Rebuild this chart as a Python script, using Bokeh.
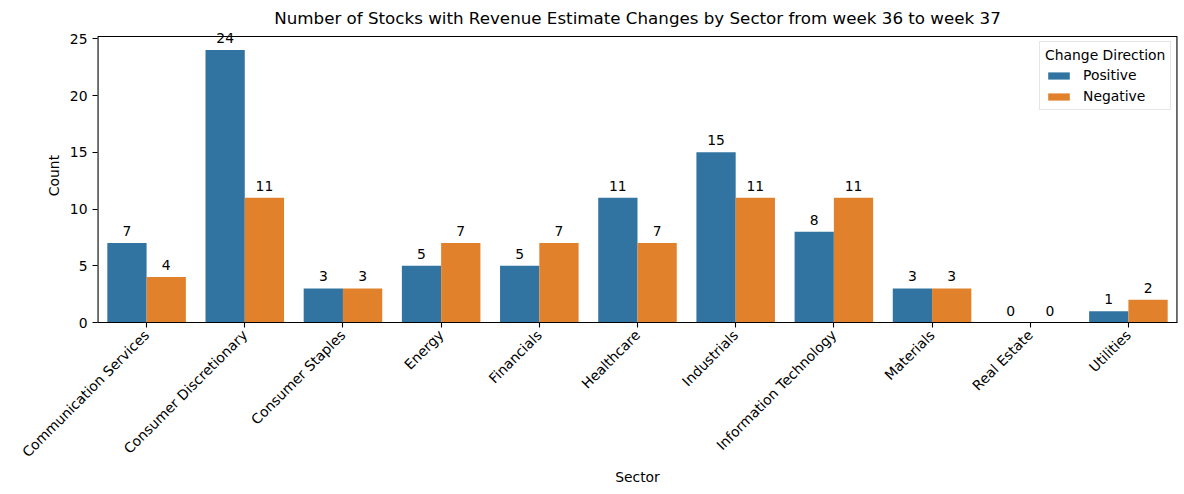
import math
from bokeh.plotting import figure
from bokeh.models import ColumnDataSource, FactorRange, Range1d, FixedTicker, Span
from bokeh.transform import dodge
from bokeh.core.properties import value
from bokeh.embed import file_html
from bokeh.resources import INLINE

sectors = ["Communication Services", "Consumer Discretionary", "Consumer Staples",
           "Energy", "Financials", "Healthcare", "Industrials",
           "Information Technology", "Materials", "Real Estate", "Utilities"]
positive = [7, 24, 3, 5, 5, 11, 15, 8, 3, 0, 1]
negative = [4, 11, 3, 7, 7, 7, 11, 11, 3, 0, 2]
series_names = ["Positive", "Negative"]
colors = ["#3274a1", "#e1812c"]
y_ticks = [0, 5, 10, 15, 20, 25]

FONT = "DejaVu Sans"
FS = "13.9px"
BAR_W = 0.4

W, H = 1184, 494
B_LEFT, B_RIGHT, B_TOP, B_BOTTOM = 97, 7, 28, 172
HEADROOM = 8            # px of frame above the drawn axes box, so labels can overflow it
Y_TOP = max(positive + negative) * 1.05
frame_h = H - B_TOP - B_BOTTOM
y_end = Y_TOP * frame_h / (frame_h - HEADROOM)

src = ColumnDataSource(dict(
    sector=sectors, pos=positive, neg=negative,
    pos_lbl=[str(v) for v in positive], neg_lbl=[str(v) for v in negative]))

p = figure(width=W, height=H, output_backend="svg", toolbar_location=None,
           x_range=FactorRange(factors=sectors, range_padding=0),
           y_range=Range1d(0, y_end),
           title="Number of Stocks with Revenue Estimate Changes by Sector from week 36 to week 37",
           min_border_left=B_LEFT, min_border_right=B_RIGHT,
           min_border_top=B_TOP, min_border_bottom=B_BOTTOM)

p.vbar(x=dodge("sector", -BAR_W / 2, range=p.x_range), top="pos", width=BAR_W, source=src,
       fill_color=colors[0], line_color=None, legend_label=series_names[0])
p.vbar(x=dodge("sector", BAR_W / 2, range=p.x_range), top="neg", width=BAR_W, source=src,
       fill_color=colors[1], line_color=None, legend_label=series_names[1])

for off, ycol, tcol in ((-BAR_W / 2, "pos", "pos_lbl"), (BAR_W / 2, "neg", "neg_lbl")):
    p.text(x=dodge("sector", off, range=p.x_range), y=ycol, text=tcol, source=src,
           text_align="center", text_baseline="bottom", y_offset=-7,
           text_font=value(FONT), text_font_size=FS, text_color="black")

# axes box (matplotlib spines) ending at Y_TOP
n = len(sectors)
p.segment(x0=[0, n], y0=[0, 0], x1=[0, n], y1=[Y_TOP, Y_TOP],
          line_color="black", line_width=2.2)
p.add_layout(Span(location=Y_TOP, dimension="width", line_color="black", line_width=1.1))

p.title.align = "center"
p.title.text_font = FONT
p.title.text_font_size = "16.7px"
p.title.text_font_style = "normal"
p.title.text_color = "black"
p.title.standoff = 1

p.xgrid.visible = False
p.ygrid.visible = False
p.outline_line_color = None

for ax in (p.xaxis[0], p.yaxis[0]):
    ax.axis_line_color = "black"
    ax.axis_line_width = 1.1
    ax.major_tick_line_color = "black"
    ax.major_tick_line_width = 1.1
    ax.major_tick_out = 5
    ax.major_tick_in = 0
    ax.minor_tick_line_color = None
    ax.major_label_text_font = FONT
    ax.major_label_text_font_size = FS
    ax.major_label_text_color = "black"
    ax.axis_label_text_font = FONT
    ax.axis_label_text_font_size = FS
    ax.axis_label_text_font_style = "normal"
    ax.axis_label_text_color = "black"

p.yaxis.axis_line_color = None
p.xaxis.axis_label = "Sector"
p.xaxis.axis_label_standoff = 0
p.yaxis.axis_label = "Count"
p.xaxis.major_label_orientation = math.pi / 4
p.xaxis.group_text_font_size = "0px"
p.yaxis.ticker = FixedTicker(ticks=y_ticks)

leg = p.legend[0]
leg.title = "Change Direction"
leg.title_text_font = FONT
leg.title_text_font_size = FS
leg.title_text_font_style = "normal"
leg.title_text_color = "black"
leg.title_standoff = 4
leg.label_text_font = FONT
leg.label_text_font_size = FS
leg.label_text_color = "black"
leg.location = (942, 212)
leg.border_line_color = "#cccccc"
leg.border_line_width = 1
leg.glyph_width = 27
leg.glyph_height = 9
leg.label_standoff = 11
leg.padding = 5
leg.spacing = 5

open("out.html", "w").write(file_html(p, INLINE))
